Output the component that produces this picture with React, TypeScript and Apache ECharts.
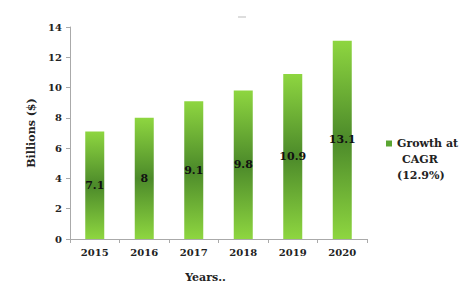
import React, { useEffect, useRef } from "react";
import * as echarts from "echarts";

const years = ["2015", "2016", "2017", "2018", "2019", "2020"];
const values = [7.1, 8, 9.1, 9.8, 10.9, 13.1];
const seriesName = "Growth at CAGR (12.9%)";
const legendLines = ["Growth at", "CAGR", "(12.9%)"];

const FONT = "DejaVu Serif";

export default function App() {
  const ref = useRef<HTMLDivElement>(null);
  useEffect(() => {
    if (!ref.current) return;
    const chart = echarts.init(ref.current, undefined, { renderer: "svg" });
    const grad = new echarts.graphic.LinearGradient(0, 0, 0, 1, [
      { offset: 0, color: "#8ed640" },
      { offset: 0.5, color: "#4c8a2a" },
      { offset: 1, color: "#8ed640" },
    ]);
    chart.setOption({
      animation: false,
      backgroundColor: "#ffffff",
      grid: { left: 70, top: 27, right: 105, bottom: 48, containLabel: false },
      legend: {
        show: true,
        left: 386,
        top: 138,
        orient: "vertical",
        icon: "rect",
        itemWidth: 6,
        itemHeight: 6,
        itemGap: 4,
        padding: 0,
        formatter: () => legendLines[0],
        textStyle: { fontFamily: FONT, fontWeight: "bold", fontSize: 11, color: "#222" },
        data: [{ name: seriesName, itemStyle: { color: "#5aa532" } }],
      },
      graphic: [
        {
          type: "text",
          left: 402,
          top: 154,
          style: { text: legendLines[1], font: `bold 11px "${FONT}"`, fill: "#222" },
        },
        {
          type: "text",
          left: 397,
          top: 170,
          style: { text: legendLines[2], font: `bold 11px "${FONT}"`, fill: "#222" },
        },
        {
          type: "line",
          shape: { x1: 238, y1: 17, x2: 246, y2: 17 },
          style: { stroke: "#bbb", lineWidth: 1 },
        },
      ],
      xAxis: {
        type: "category",
        data: years,
        name: "Years..",
        nameLocation: "middle",
        nameGap: 33,
        nameTextStyle: {
          fontFamily: FONT,
          fontWeight: "bold",
          fontSize: 11,
          color: "#222",
          padding: [0, 26, 0, 0],
        },
        axisLine: { lineStyle: { color: "#aaa" } },
        axisTick: { show: true, alignWithLabel: false, length: 4, lineStyle: { color: "#aaa" } },
        axisLabel: {
          fontFamily: FONT,
          fontWeight: "bold",
          fontSize: 10,
          color: "#222",
          margin: 8,
        },
      },
      yAxis: {
        type: "value",
        min: 0,
        max: 14,
        interval: 2,
        name: "Billions ($)",
        nameLocation: "middle",
        nameGap: 30,
        nameRotate: 90,
        nameTextStyle: { fontFamily: FONT, fontWeight: "bold", fontSize: 11, color: "#222" },
        axisLine: { show: true, lineStyle: { color: "#aaa" } },
        axisTick: { show: true, length: 4, lineStyle: { color: "#aaa" } },
        splitLine: { show: false },
        axisLabel: {
          fontFamily: FONT,
          fontWeight: "bold",
          fontSize: 10,
          color: "#222",
          margin: 8,
        },
      },
      series: [
        {
          name: seriesName,
          type: "bar",
          data: values,
          barWidth: 19,
          itemStyle: { color: grad },
          label: {
            show: true,
            position: "inside",
            fontFamily: FONT,
            fontWeight: "bold",
            fontSize: 11,
            color: "#111",
          },
        },
      ],
    });
    return () => chart.dispose();
  }, []);
  return <div ref={ref} style={{ width: 472, height: 288, position: "absolute", left: 0, top: 0 }} />;
}
